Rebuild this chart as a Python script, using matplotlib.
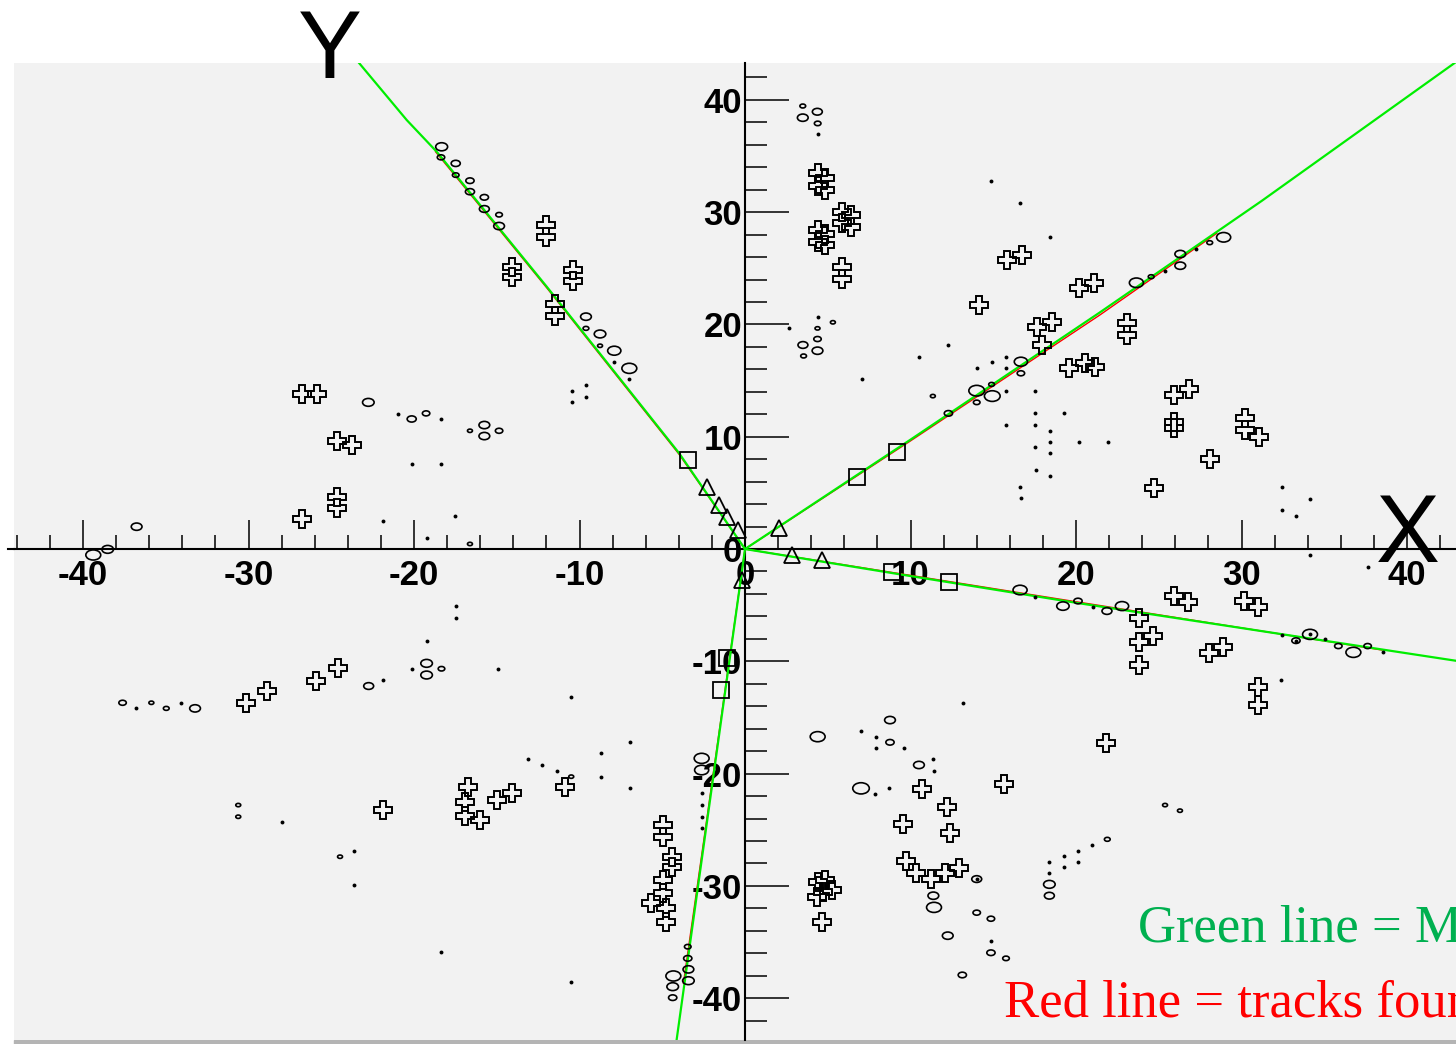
import matplotlib
matplotlib.use('Agg')
import matplotlib.pyplot as plt
import numpy as np
from matplotlib.collections import EllipseCollection
from matplotlib.ticker import MultipleLocator
from matplotlib.patches import Rectangle

# hollow ellipse hits: x, y, diameter (data units)
ellipses = [
    (-18.33, 35.82, 0.72), (-18.37, 34.88, 0.45), (-17.48, 34.34, 0.55), (-17.48, 33.30, 0.40),
    (-16.62, 32.80, 0.50), (-16.62, 31.82, 0.55), (-15.75, 31.32, 0.50), (-15.75, 30.28, 0.60),
    (-14.86, 29.77, 0.40), (-14.86, 28.76, 0.65), (-9.61, 20.69, 0.65), (-9.61, 19.65, 0.35),
    (-8.76, 19.15, 0.70), (-8.76, 18.10, 0.30), (-7.90, 17.66, 0.80), (-6.99, 16.09, 0.90),
    (-22.76, 13.06, 0.70), (-20.14, 11.58, 0.55), (-19.27, 12.08, 0.45), (-15.75, 11.04, 0.65),
    (-15.75, 10.06, 0.65), (-16.62, 10.53, 0.30), (-14.86, 10.53, 0.45), (-16.62, 0.45, 0.30),
    (-36.76, 1.99, 0.65), (-38.51, -0.03, 0.70), (-39.38, -0.53, 0.90),
    (3.49, 39.45, 0.35), (4.37, 38.94, 0.60), (3.49, 38.41, 0.65), (4.39, 37.90, 0.40),
    (5.31, 20.19, 0.30), (4.38, 19.65, 0.30), (4.38, 18.70, 0.45), (3.50, 18.17, 0.60),
    (4.38, 17.66, 0.65), (3.54, 17.19, 0.35),
    (12.29, 12.08, 0.50), (14.00, 14.10, 0.95), (14.00, 13.06, 0.40), (14.94, 13.62, 0.95),
    (14.90, 14.66, 0.35), (16.67, 16.68, 0.80), (16.67, 15.65, 0.45), (11.35, 13.62, 0.30),
    (23.65, 23.71, 0.85), (24.54, 24.25, 0.35), (26.30, 26.27, 0.65), (26.30, 25.23, 0.65),
    (28.08, 27.28, 0.35), (28.92, 27.76, 0.85),
    (16.62, -3.65, 0.85), (19.21, -5.08, 0.75), (20.12, -4.63, 0.50), (21.87, -5.52, 0.60),
    (22.78, -5.08, 0.80), (34.14, -7.60, 0.90), (33.29, -8.16, 0.50), (35.85, -8.64, 0.45),
    (36.76, -9.20, 0.90), (37.62, -8.64, 0.45),
    (8.76, -15.23, 0.65), (4.39, -16.71, 0.90), (8.76, -17.21, 0.50), (10.51, -19.23, 0.65),
    (7.01, -21.31, 1.00), (14.00, -29.39, 0.60), (11.38, -30.87, 0.65), (11.42, -31.91, 0.90),
    (14.00, -32.38, 0.45), (14.86, -32.92, 0.45), (12.25, -34.43, 0.65), (14.86, -35.95, 0.50),
    (15.77, -36.45, 0.40), (13.13, -37.93, 0.50), (18.39, -29.86, 0.70), (18.39, -30.87, 0.60),
    (21.89, -25.85, 0.35), (25.38, -22.80, 0.30), (26.28, -23.30, 0.30),
    (-37.61, -13.69, 0.45), (-35.87, -13.69, 0.30), (-34.97, -14.19, 0.35), (-33.23, -14.19, 0.65),
    (-22.74, -12.20, 0.60), (-19.24, -10.18, 0.70), (-19.24, -11.22, 0.70), (-18.34, -10.66, 0.40),
    (-10.50, -20.27, 0.30), (-30.62, -22.80, 0.30), (-30.62, -23.84, 0.30), (-24.47, -27.40, 0.30),
    (-2.62, -18.64, 0.90), (-2.62, -19.68, 0.85), (-3.46, -35.41, 0.40), (-3.46, -36.45, 0.50),
    (-3.42, -37.43, 0.65), (-3.42, -38.44, 0.70), (-4.33, -38.02, 0.90), (-4.37, -38.97, 0.70),
    (-4.37, -39.95, 0.50),
]

# tiny filled hits
dots = [
    (-6.99, 15.11), (-7.90, 16.62), (-20.95, 12.02), (-18.37, 11.58), (-9.61, 14.60),
    (-10.47, 14.10), (-9.61, 13.56), (-10.47, 13.06), (-20.10, 7.54), (-18.37, 7.54),
    (-21.85, 2.49), (-17.50, 2.94), (-19.23, 0.95),
    (4.39, 36.93), (4.42, 20.69), (2.65, 19.65), (7.05, 15.11), (14.86, 32.80), (16.63, 30.78),
    (18.40, 27.76), (12.25, 18.14), (10.52, 17.13), (15.79, 17.13), (14.90, 16.62), (14.02, 16.09),
    (15.79, 16.14), (15.79, 14.10), (17.54, 14.10), (17.50, 12.08), (19.27, 12.08), (15.79, 11.04),
    (17.50, 11.04), (18.40, 10.53), (18.44, 9.55), (20.17, 9.55), (21.92, 9.55), (17.50, 9.05),
    (18.44, 8.58), (17.56, 7.03), (18.44, 6.53), (16.63, 5.49), (16.67, 4.51), (32.43, 5.49),
    (32.43, 3.50), (33.29, 2.97), (34.14, 4.48), (25.38, 24.75), (27.23, 26.71),
    (34.14, -0.53), (37.62, -1.57), (35.05, -8.04), (38.53, -9.14), (32.43, -7.66), (32.39, -11.67),
    (17.52, -4.27), (21.03, -5.14), (34.14, -7.60), (33.29, -8.16), (7.01, -16.21), (7.92, -16.71),
    (7.92, -17.75), (9.63, -17.69), (11.38, -18.73), (11.42, -19.74), (7.88, -21.82), (8.72, -21.31),
    (13.15, -13.68), (18.39, -28.88), (18.39, -27.90), (19.27, -27.34), (19.27, -28.35),
    (20.14, -26.89), (20.14, -27.90), (20.99, -26.39), (14.86, -34.91), (14.00, -29.39),
    (-36.79, -14.19), (-34.08, -13.69), (-21.85, -11.67), (-20.11, -10.66), (-19.24, -8.17),
    (-17.49, -5.08), (-17.45, -6.11), (-14.92, -10.66), (-10.50, -13.21), (-13.09, -18.73),
    (-12.24, -19.23), (-11.39, -19.77), (-8.73, -18.19), (-8.73, -20.27), (-6.94, -17.21),
    (-6.94, -21.31), (-27.98, -24.34), (-23.62, -26.86), (-23.62, -29.89), (-18.34, -35.91),
    (-10.50, -38.53), (-2.62, -21.75), (-2.62, -22.80), (-2.62, -23.84), (-2.62, -24.87),
]

# open-cross hits
crosses = [
    (-12.04, 28.85), (-12.04, 27.81), (-14.06, 25.14), (-14.06, 24.19), (-10.37, 24.84),
    (-10.37, 23.86), (-11.48, 21.79), (-11.48, 20.75), (-26.79, 13.80), (-25.88, 13.80),
    (-24.63, 9.64), (-23.77, 9.26), (-24.63, 4.66), (-24.63, 3.68), (-26.79, 2.67),
    (4.39, 33.45), (4.83, 33.00), (4.39, 32.32), (4.83, 31.97), (5.84, 30.04), (6.38, 29.74),
    (5.84, 29.00), (6.38, 28.65), (4.39, 28.41), (4.83, 28.05), (4.39, 27.36), (4.83, 27.07),
    (5.88, 25.14), (5.88, 24.02), (15.84, 25.73), (16.73, 26.18), (14.13, 21.73), (20.21, 23.21),
    (21.11, 23.66), (17.67, 19.74), (18.54, 20.19), (17.92, 18.17), (23.09, 20.10), (23.09, 19.06),
    (19.58, 16.09), (20.53, 16.59), (21.15, 16.23), (25.94, 13.71), (26.82, 14.22), (25.94, 11.30),
    (25.94, 10.75), (30.21, 11.64), (30.21, 10.60), (31.04, 10.00), (28.07, 7.99), (24.69, 5.40),
    (25.92, -4.16), (26.79, -4.69), (30.17, -4.60), (31.02, -5.19), (23.81, -6.17), (23.81, -8.25),
    (24.63, -7.75), (23.81, -10.33), (28.04, -9.29), (28.90, -8.75), (31.02, -12.32), (31.02, -13.89),
    (21.79, -17.30), (15.67, -20.95), (10.67, -21.37), (12.19, -22.94), (12.39, -25.32), (9.57, -24.49),
    (9.73, -27.76), (10.31, -28.82), (11.22, -29.39), (12.08, -28.88), (12.95, -28.38), (4.39, -29.63),
    (4.83, -29.47), (5.24, -30.37), (4.33, -30.96), (4.73, -30.52), (4.63, -33.24),
    (-30.17, -13.69), (-28.89, -12.62), (-25.92, -11.73), (-24.62, -10.57), (-21.90, -23.24),
    (-16.71, -21.22), (-16.89, -22.56), (-16.89, -23.75), (-16.04, -24.13), (-14.97, -22.35),
    (-14.07, -21.75), (-10.85, -21.22), (-4.94, -24.58), (-4.94, -25.62), (-4.39, -27.40),
    (-4.39, -28.29), (-4.94, -29.47), (-4.94, -30.66), (-5.70, -31.50), (-4.79, -32.00), (-4.79, -33.19),
]

squares = [(-3.43, 7.90), (6.75, 6.44), (9.17, 8.66), (8.86, -2.02), (12.33, -2.94),
           (-1.09, -9.70), (-1.45, -12.56)]

triangles = [(-2.31, 5.55), (-1.55, 3.92), (-1.11, 2.88), (-0.40, 1.69), (-0.20, -2.76),
             (2.05, 1.84), (2.82, -0.53), (4.67, -0.98)]

# green: MC tracks, red: found tracks
mc_tracks = [
    [(0, 0), (-3.99, 8.55), (-11.98, 23.36), (-18.63, 35.38), (-20.44, 38.20), (-23.32, 43.28)],
    [(0, 0), (9.97, 9.71), (21.45, 21.08), (31.22, 31.0), (42.96, 43.37)],
    [(0, 0), (9.97, -2.40), (20.24, -4.84), (42.96, -9.95)],
    [(0, 0), (-4.17, -44.1)],
]
found_tracks = [
    [(0, 0), (-3.99, 8.45), (-11.98, 23.26), (-18.70, 35.38)],
    [(0, 0), (9.97, 9.60), (21.45, 20.85), (28.5, 28.11)],
    [(0, 0), (20.24, -4.75), (38.47, -8.99)],
    [(0, 0), (-2.40, -25.0), (-3.72, -38.67)],
]

tick_vals = [-40, -30, -20, -10, 0, 10, 20, 30, 40]

fig = plt.figure(figsize=(14.56, 10.44), dpi=100)
fig.patch.set_facecolor('white')
ax = fig.add_axes([14 / 1456, 4 / 1044, 1 - 14 / 1456, (1040 - 63) / 1044])
ax.set_facecolor('#f2f2f2')
ax.set_xlim(-44.17, 42.96)
ax.set_ylim(-43.72, 43.28)

for s in ['top', 'right']:
    ax.spines[s].set_visible(False)
ax.spines['left'].set_position('zero')
ax.spines['bottom'].set_position('zero')
ax.spines['left'].set_linewidth(1.5)
ax.spines['bottom'].set_linewidth(1.5)
ax.plot([-44.53, -44.17], [0, 0], color='k', lw=1.5, clip_on=False)

ax.set_xticks(tick_vals)
ax.set_yticks(tick_vals)
ax.xaxis.set_minor_locator(MultipleLocator(2))
ax.yaxis.set_minor_locator(MultipleLocator(2))
ax.set_xticklabels([str(v) for v in tick_vals], fontweight='bold', family='Liberation Sans')
ax.set_yticklabels([str(v) for v in tick_vals], fontweight='bold', family='Liberation Sans')
ax.tick_params(axis='x', which='major', direction='in', length=21, width=1.1, pad=7, labelsize=25)
ax.tick_params(axis='x', which='minor', direction='in', length=10, width=1.1)
ax.tick_params(axis='y', which='major', direction='in', length=32, width=1.1, pad=2, labelsize=25)
ax.tick_params(axis='y', which='minor', direction='in', length=16, width=1.1)

for tr in found_tracks:
    t = np.array(tr)
    ax.plot(t[:, 0], t[:, 1], color='#ff0000', lw=1.0, zorder=3)
for tr in mc_tracks:
    t = np.array(tr)
    ax.plot(t[:, 0], t[:, 1], color='#00ee00', lw=1.6, zorder=4)

e = np.array(ellipses)
ec = EllipseCollection(e[:, 2], e[:, 2], np.zeros(len(e)), units='xy',
                       offsets=e[:, :2], offset_transform=ax.transData,
                       facecolors='none', edgecolors='black', linewidths=1.2, zorder=5)
ax.add_collection(ec)

d = np.array(dots)
ax.plot(d[:, 0], d[:, 1], 'o', color='black', ms=2.8, mew=0, zorder=5)
c = np.array(crosses)
ax.plot(c[:, 0], c[:, 1], 'P', mfc='none', mec='black', ms=12.5, mew=1.4, zorder=5)
sq = np.array(squares)
ax.plot(sq[:, 0], sq[:, 1], 's', mfc='none', mec='black', ms=11.5, mew=1.3, zorder=5)
tri = np.array(triangles)
ax.plot(tri[:, 0], tri[:, 1], '^', mfc='none', mec='black', ms=12, mew=1.3, zorder=5)

ax.text(40.06, -1.16, 'X', fontsize=69, ha='center', va='baseline', family='Liberation Sans')
ax.text(-25.08, 41.94, 'Y', fontsize=69, ha='center', va='baseline', family='Liberation Sans',
        clip_on=False)

fig.text(1138 / 1456, 1 - 941.7 / 1044, 'Green line = MC truth', color='#00b050',
         fontsize=38, family='Liberation Serif', va='baseline')
fig.text(1004 / 1456, 1 - 1016.7 / 1044, 'Red line = tracks found', color='#ff0000',
         fontsize=38, family='Liberation Serif', va='baseline')

fig.add_artist(Rectangle((14 / 1456, 0), 1, 4 / 1044, transform=fig.transFigure,
                         color='#b4b4b4', zorder=0))

fig.savefig('out.png', dpi=100, facecolor='white')
